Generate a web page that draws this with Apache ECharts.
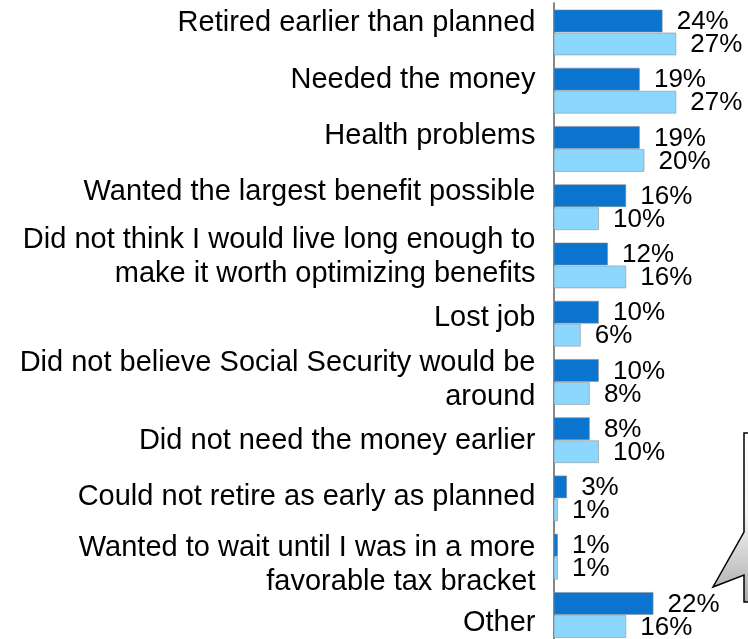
<!DOCTYPE html>
<html>
<head>
<meta charset="utf-8">
<title>Reasons for claiming Social Security benefits</title>
<script src="https://cdn.jsdelivr.net/npm/echarts@6/dist/echarts.min.js"></script>
<style>
  html, body { margin: 0; padding: 0; background: #ffffff; }
  #chart { width: 748px; height: 639px; }
</style>
</head>
<body>
<div id="chart"></div>
<script>
// Reasons (top to bottom) and the share of respondents for each group, in %
const categories = [
  'Retired earlier than planned',
  'Needed the money',
  'Health problems',
  'Wanted the largest benefit possible',
  'Did not think I would live long enough to\nmake it worth optimizing benefits',
  'Lost job',
  'Did not believe Social Security would be\naround',
  'Did not need the money earlier',
  'Could not retire as early as planned',
  'Wanted to wait until I was in a more\nfavorable tax bracket',
  'Other'
];
const groupA = [24, 19, 19, 16, 12, 10, 10, 8, 3, 1, 22];
const groupB = [27, 27, 20, 10, 16, 6, 8, 10, 1, 1, 16];

// Vertical nudge of each reason label (px, negative = up)
const labelShift = [-9.4, -11, -12.9, -14.7, -8.7, -6, -1.6, 0.8, -1.7, 8.3, 8.1];

const FONT = '"Liberation Sans", Arial, Helvetica, sans-serif';

const rich = {
  t: { fontSize: 29, lineHeight: 34, fontFamily: FONT, color: '#000000' }
};
labelShift.forEach(function (s, i) {
  rich['g' + i] = { fontSize: 1, lineHeight: Math.max(1, Math.abs(s) * 2), fontFamily: FONT };
});

function categoryLabel(value, index) {
  const lines = String(value).split('\n').map(function (l) { return '{t|' + l + '}'; });
  const s = labelShift[index] || 0;
  if (Math.abs(s) > 0.2) {
    const gap = '{g' + index + '| }';
    if (s < 0) lines.push(gap); else lines.unshift(gap);
  }
  return lines.join('\n');
}

const valueLabel = {
  show: true,
  position: 'right',
  distance: 14,
  offset: [0, 1],
  formatter: '{c}%',
  fontSize: 26,
  fontFamily: FONT,
  color: '#000000'
};

const chart = echarts.init(document.getElementById('chart'), null, { renderer: 'canvas' });

chart.setOption({
  backgroundColor: '#ffffff',
  animation: false,
  grid: {
    left: 553.5,
    width: 136.5,
    top: 3.3,
    height: 640.75,
    containLabel: false,
    outerBoundsMode: 'none'
  },
  xAxis: {
    type: 'value',
    min: 0,
    max: 30,
    show: false
  },
  yAxis: {
    type: 'category',
    inverse: true,
    data: categories,
    axisLine: { show: true, lineStyle: { color: '#878787', width: 2 } },
    axisTick: { show: false },
    splitLine: { show: false },
    axisLabel: {
      interval: 0,
      margin: 18,
      align: 'right',
      formatter: categoryLabel,
      rich: rich
    }
  },
  series: [
    {
      name: 'Group A',
      type: 'bar',
      data: groupA,
      barGap: '0%',
      barCategoryGap: '21%',
      itemStyle: { color: '#0B74CF', borderColor: 'rgba(140,140,140,0.55)', borderWidth: 1 },
      label: valueLabel
    },
    {
      name: 'Group B',
      type: 'bar',
      data: groupB,
      barGap: '0%',
      barCategoryGap: '21%',
      itemStyle: { color: '#8BD7FE', borderColor: 'rgba(140,140,140,0.55)', borderWidth: 1 },
      label: valueLabel
    }
  ],
  graphic: [
    {
      type: 'polygon',
      z: 100,
      shape: {
        points: [
          [744, 433], [760, 433], [760, 602], [744, 602],
          [744, 575], [713, 587], [744, 532]
        ]
      },
      style: {
        fill: new echarts.graphic.LinearGradient(0, 0, 0, 1, [
          { offset: 0, color: '#ffffff' },
          { offset: 0.5, color: '#f2f2f2' },
          { offset: 1, color: '#a9a9a9' }
        ]),
        stroke: '#000000',
        lineWidth: 1.5
      }
    }
  ]
});
</script>
</body>
</html>
